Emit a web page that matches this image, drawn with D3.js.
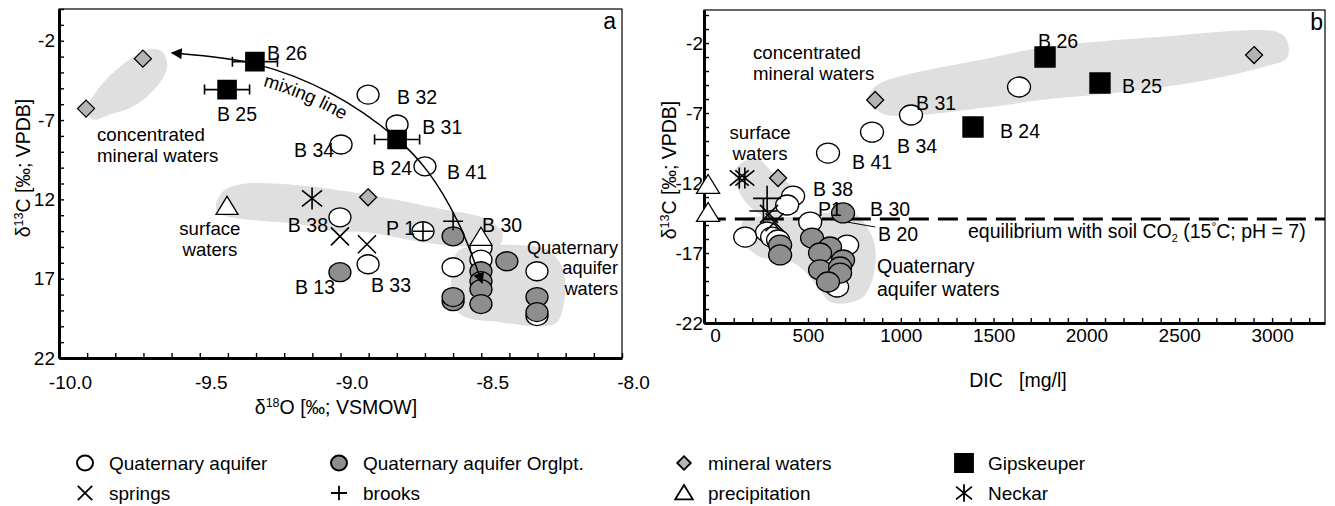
<!DOCTYPE html>
<html>
<head>
<meta charset="utf-8">
<script src="https://cdn.jsdelivr.net/npm/d3@7"></script>
<style>
  body { margin: 0; background: #fff; }
  svg { font-family: "Liberation Sans", Arial, sans-serif; }
</style>
</head>
<body>
<div id="chart"></div>
<script>
// ---------- panel a: d18O (x) vs d13C (y) ----------
var aQuatOpen = [[-8.902,-5.40],[-8.799,-7.28],[-8.998,-8.54],[-8.700,-9.92],[-9.002,-13.13],[-8.902,-16.09],
  [-8.600,-16.28],[-8.501,-15.05],[-8.501,-15.80],[-8.302,-16.53],[-8.302,-19.36],[-8.707,-14.01]];
var aQuatOrg = [[-9.002,-16.59],[-8.600,-14.33],[-8.600,-18.42],[-8.600,-18.16],[-8.501,-16.53],[-8.501,-17.16],
  [-8.501,-17.66],[-8.501,-18.60],[-8.409,-15.90],[-8.302,-18.16],[-8.302,-19.11]];
var aMineral = [[-9.702,-3.13],[-9.904,-6.28],[-8.902,-11.87]];
var aGips = [[-9.304,-3.32],[-9.403,-5.08],[-8.799,-8.23]];
var aGipsErr = [0.08, 0.08, 0.08];
var aSprings = [[-9.002,-14.33],[-8.906,-14.83]];
var aBrooks = [[-8.600,-13.38],[-8.707,-14.01]];
var aPrecip = [[-9.403,-12.44],[-8.501,-14.39]];
var aNeckar = [[-9.101,-11.94]];
var aMixing = [[-9.599,-2.77],[-9.304,-3.46],[-9.037,-5.29],[-8.799,-8.19],[-8.689,-10.27],[-8.583,-13.42],[-8.497,-17.27]];

// grey fields, panel a
var aFieldMineral = [[-9.666,-2.50],[-9.630,-2.75],[-9.616,-3.64],[-9.652,-4.89],[-9.737,-6.15],[-9.819,-6.65],
  [-9.879,-6.97],[-9.900,-6.34],[-9.854,-4.89],[-9.783,-3.64],[-9.712,-2.75]];
var aFieldSurface = [[-9.421,-11.56],[-9.357,-11.06],[-9.144,-11.12],[-8.906,-11.69],[-8.636,-12.63],[-8.480,-13.26],
  [-8.426,-14.08],[-8.433,-14.83],[-8.576,-14.96],[-8.728,-14.64],[-8.906,-14.08],[-9.027,-14.01],[-9.144,-13.57],[-9.439,-12.75]];
var aFieldQuat = [[-8.586,-15.33],[-8.551,-15.02],[-8.291,-15.02],[-8.245,-15.46],[-8.210,-16.40],[-8.203,-18.10],
  [-8.231,-19.74],[-8.291,-19.99],[-8.433,-19.74],[-8.565,-19.36],[-8.600,-18.48],[-8.604,-16.40]];

var aXTicks = d3.range(0, 21).map(i => -10 + i * 0.1);
var aYTicks = d3.range(-22, 1);
var aYLabels = {"-2": "-2", "-7": "-7", "-12": "12", "-17": "17", "-22": "22"};

// [text, x, y, anchor, line step]
var aLabels = [["B 26",-9.261,-3.21,"start"],["B 25",-9.439,-7.06,"start"],
  ["concentrated\nmineral waters",-9.865,-8.32,"start",21],["B 34",-9.165,-9.33,"start"],["B 32",-8.799,-5.98,"start"],
  ["B 31",-8.710,-7.88,"start"],["B 24",-8.888,-10.46,"start"],["B 41",-8.622,-10.71,"start"],
  ["surface\nwaters",-9.464,-14.24,"middle",21],["B 38",-9.187,-14.06,"start"],
  ["B 13",-9.162,-17.96,"start"],["B 33",-8.892,-17.84,"start"],["P 1",-8.838,-14.24,"start"],
  ["B 30",-8.497,-14.06,"start"],["Quaternary\naquifer\nwaters",-8.014,-15.44,"end",20.5]];

// ---------- panel b: DIC (x) vs d13C (y) ----------
var bQuatOpen = [[1637,-5.14],[1055,-7.14],[845,-8.36],[608,-9.86],[420,-12.93],[388,-13.57],[162,-15.86],
  [280,-15.5],[307,-15.86],[339,-16.07],[512,-14.79],[711,-16.43],[657,-19.43]];
var bQuatOrg = [[689,-14.14],[350,-16.43],[350,-17.14],[522,-15.93],[619,-16.57],[565,-17.0],[689,-17.5],
  [565,-18.21],[673,-18.0],[673,-18.43],[608,-19.07]];
var bMineral = [[2903,-2.86],[862,-6.07],[339,-11.64]];
var bGips = [[1777,-3.0],[2073,-4.86],[1389,-8.0]];
var bPrecip = [[-38,-12.14],[-38,-14.14]];
var bNeckar = [[130,-11.64],[160,-11.64]];
var bBrooks = [[280,-13.1],[260,-14.0]];
var bSprings = [[290,-14.2],[320,-14.8]];
var bEquilibrium = -14.57;
var bLeader = [[711,-14.79],[862,-15.14]];

var bFieldMineral = [[835,-5.57],[889,-4.86],[1481,-3.07],[1750,-2.36],[2380,-1.57],[3026,-1.21],[3080,-1.79],
  [3080,-3.07],[2951,-3.71],[2649,-4.64],[2197,-5.50],[1750,-6.07],[1481,-6.57],[926,-7.14],[851,-6.57],[824,-5.93]];
var bFieldSurface = [[108,-11.07],[172,-10.36],[242,-10.36],[296,-11.07],[420,-12.29],[458,-13.21],[388,-14.29],
  [280,-14.43],[188,-13.71],[118,-12.29]];
var bFieldQuat = [[172,-14.50],[420,-14.43],[743,-14.14],[818,-15.14],[862,-16.57],[851,-18.71],[797,-20.14],
  [711,-20.57],[619,-20.50],[565,-19.64],[474,-18.21],[388,-17.50],[242,-17.29],[135,-15.86],[145,-14.86]];

var bXTicks = d3.range(0, 33).map(i => i * 100);
var bYTicks = d3.range(-22, 1);

var bLabels = [["B 26",1739,-2.35,"start"],["B 25",2192,-5.57,"start"],["B 24",1534,-8.78,"start"],
  ["B 31",1082,-6.78,"start"],["B 34",980,-9.86,"start"],["B 41",737,-11.0,"start"],["B 38",527,-12.93,"start"],
  ["P1",554,-14.36,"start"],["B 30",834,-14.36,"start"],["B 20",877,-16.14,"start"],
  ["concentrated\nmineral waters",204,-3.14,"start",21],["surface\nwaters",242,-8.86,"middle",21],
  ["Quaternary\naquifer waters",872,-18.43,"start",23]];

// ---------- legend ----------
var legendNames = ["Quaternary aquifer", "Quaternary aquifer Orglpt.", "mineral waters", "Gipskeuper",
  "springs", "brooks", "precipitation", "Neckar"];
var legendKinds = ["open", "org", "diamond", "square", "cross", "plus", "triangle", "asterisk"];

var GREY_FIELD = "#dfdfdf", GREY_ORG = "#8e8e8e", GREY_MIN = "#b4b4b4";
var LABEL_SIZE = 19.5, TICK_SIZE = "19px";

var svg = d3.select("#chart").append("svg")
  .attr("width", 1335)
  .attr("height", 506);

var defs = svg.append("defs");
defs.append("marker")
  .attr("id", "arrow")
  .attr("viewBox", "0 0 10 10")
  .attr("refX", 9).attr("refY", 5)
  .attr("markerWidth", 15).attr("markerHeight", 11)
  .attr("markerUnits", "userSpaceOnUse")
  .attr("orient", "auto-start-reverse")
  .append("path").attr("d", "M0,0L10,5L0,10Z").attr("fill", "#000");

// shapes centred on 0,0
function shape(kind, k) {
  k = k || 1;
  switch (kind) {
    case "diamond": return `M0,${-8.5*k}L${8.5*k},0L0,${8.5*k}L${-8.5*k},0Z`;
    case "square": return `M${-9*k},${-9*k}h${18*k}v${18*k}h${-18*k}Z`;
    case "triangle": return `M0,${-10*k}L${11*k},${8*k}L${-11*k},${8*k}Z`;
    case "cross": return `M${-9*k},${-9*k}L${9*k},${9*k}M${-9*k},${9*k}L${9*k},${-9*k}`;
    case "plus": return `M${-10*k},0H${10*k}M0,${-9*k}V${9*k}`;
    case "asterisk": return `M0,${-11*k}V${11*k}M${-10*k},${-8*k}L${10*k},${8*k}M${-10*k},${8*k}L${10*k},${-8*k}`;
  }
}

function drawEllipses(g, data, x, y, fill, rx, ry) {
  g.append("g").selectAll("ellipse")
    .data(data)
    .enter()
    .append("ellipse")
    .attr("cx", d => x(d[0]))
    .attr("cy", d => y(d[1]))
    .attr("rx", rx)
    .attr("ry", ry)
    .attr("fill", fill)
    .attr("stroke", "#000")
    .attr("stroke-width", 1.3);
}

function drawShapes(g, data, x, y, kind, k) {
  var filled = {diamond: GREY_MIN, square: "#000", triangle: "#fff"};
  g.append("g").selectAll("path")
    .data(data)
    .enter()
    .append("path")
    .attr("transform", d => `translate(${x(d[0])},${y(d[1])})`)
    .attr("d", shape(kind, k))
    .attr("fill", filled[kind] || "none")
    .attr("stroke", "#000")
    .attr("stroke-width", kind == "diamond" || kind == "triangle" ? 1.3 : 1.6);
}

function drawField(g, data, x, y) {
  g.append("path")
    .datum(data)
    .attr("d", d3.line().x(d => x(d[0])).y(d => y(d[1])).curve(d3.curveCatmullRomClosed.alpha(0.5)))
    .attr("fill", GREY_FIELD);
}

// labels; multi-line ones become one text with tspans, sized to fit their line step
function drawLabels(g, data, x, y) {
  var t = g.append("g").selectAll("text")
    .data(data)
    .enter()
    .append("text")
    .attr("x", d => x(d[1]))
    .attr("y", d => y(d[2]))
    .attr("text-anchor", d => d[3])
    .attr("font-size", d => (d[4] ? Math.min(LABEL_SIZE, d[4] / 1.125) : LABEL_SIZE) + "px");
  t.each(function(d) {
    var el = d3.select(this);
    d[0].split("\n").forEach((line, i) => {
      el.append("tspan")
        .attr("x", x(d[1]))
        .attr("dy", i == 0 ? 0 : d[4])
        .text(line);
    });
  });
}

function styleAxis(g) {
  g.attr("font-family", null).attr("font-size", null);
  g.select(".domain").attr("stroke-width", 3);
  g.selectAll(".tick line").attr("stroke-width", 1.4);
  g.selectAll(".tick text").attr("font-size", TICK_SIZE).attr("fill", "#000");
}

// y-axis title with superscript
function yTitle(g, tx, ty) {
  var t = g.append("text")
    .attr("transform", `translate(${tx},${ty}) rotate(-90)`)
    .attr("text-anchor", "middle")
    .attr("font-size", "19.5px");
  t.append("tspan").text("δ");
  t.append("tspan").attr("font-size", "12.5px").attr("dy", -7).text("13");
  t.append("tspan").attr("dy", 7).text("C  [‰; VPDB]");
}

// ================= panel a =================
var xA = d3.scaleLinear().domain([-10, -8]).range([59, 622]);
var yA = d3.scaleLinear().domain([-22, 0]).range([358, 9]);
var gA = svg.append("g");

drawField(gA, aFieldMineral, xA, yA);
drawField(gA, aFieldSurface, xA, yA);
drawField(gA, aFieldQuat, xA, yA);

gA.append("rect")
  .attr("x", xA(-10)).attr("y", yA(0))
  .attr("width", xA(-8) - xA(-10)).attr("height", yA(-22) - yA(0))
  .attr("fill", "none").attr("stroke", "#000").attr("stroke-width", 1.2);

gA.append("g")
  .attr("transform", `translate(0,${yA(-22)})`)
  .call(d3.axisBottom(xA).tickValues(aXTicks).tickSize(-5).tickSizeOuter(0).tickPadding(18)
    .tickFormat((d, i) => i % 5 == 0 ? d.toFixed(1) : ""))
  .call(styleAxis)
  .selectAll(".tick text").attr("dx", 11);

gA.append("g")
  .attr("transform", `translate(${xA(-10)},0)`)
  .call(d3.axisLeft(yA).tickValues(aYTicks).tickSize(-5).tickSizeOuter(0).tickPadding(4)
    .tickFormat(d => aYLabels[d] || ""))
  .call(styleAxis);

drawEllipses(gA, aQuatOpen, xA, yA, "#fff", 11, 9.5);
drawEllipses(gA, aQuatOrg, xA, yA, GREY_ORG, 11, 9.5);
drawShapes(gA, aMineral, xA, yA, "diamond", 1);
drawShapes(gA, aSprings, xA, yA, "cross", 1);
drawShapes(gA, aBrooks, xA, yA, "plus", 1);
drawShapes(gA, aNeckar, xA, yA, "asterisk", 1);
drawShapes(gA, aPrecip, xA, yA, "triangle", 1);

// mixing line
var mixLine = d3.line().x(d => xA(d[0])).y(d => yA(d[1])).curve(d3.curveCatmullRom.alpha(0.5));
gA.append("path")
  .attr("id", "mixpath")
  .attr("d", mixLine(aMixing))
  .attr("fill", "none")
  .attr("stroke", "#000")
  .attr("stroke-width", 1.5)
  .attr("marker-start", "url(#arrow)")
  .attr("marker-end", "url(#arrow)");

gA.append("g")
  .attr("transform", "translate(0,20)")
  .append("text")
  .attr("font-size", "18.5px")
  .append("textPath")
  .attr("href", "#mixpath")
  .attr("startOffset", 92)
  .text("mixing line");

// Gipskeuper with error bars
var errG = gA.append("g").selectAll("g").data(aGips).enter().append("g");
errG.append("path")
  .attr("d", (d, i) => {
    var x0 = xA(d[0] - aGipsErr[i]), x1 = xA(d[0] + aGipsErr[i]), y = yA(d[1]);
    return `M${x0},${y}H${x1}M${x0},${y - 5}V${y + 5}M${x1},${y - 5}V${y + 5}`;
  })
  .attr("stroke", "#000").attr("stroke-width", 1.6).attr("fill", "none");
drawShapes(gA, aGips, xA, yA, "square", 1);

drawLabels(gA, aLabels, xA, yA);

gA.append("text").attr("x", 616).attr("y", 29).attr("text-anchor", "end").attr("font-size", "23px").text("a");
yTitle(gA, 30, 168);

var xtA = gA.append("text").attr("x", 336).attr("y", 414).attr("text-anchor", "middle").attr("font-size", "19.5px");
xtA.append("tspan").text("δ");
xtA.append("tspan").attr("font-size", "12.5px").attr("dy", -7).text("18");
xtA.append("tspan").attr("dy", 7).text("O  [‰; VSMOW]");

// ================= panel b =================
var xB = d3.scaleLinear().domain([-60, 3285]).range([704, 1325]);
var yB = d3.scaleLinear().domain([-22, 0.36]).range([323, 10]);
var gB = svg.append("g");

drawField(gB, bFieldMineral, xB, yB);
drawField(gB, bFieldSurface, xB, yB);
drawField(gB, bFieldQuat, xB, yB);

gB.append("rect")
  .attr("x", xB(-60)).attr("y", yB(0.36))
  .attr("width", xB(3285) - xB(-60)).attr("height", yB(-22) - yB(0.36))
  .attr("fill", "none").attr("stroke", "#000").attr("stroke-width", 1.2);

gB.append("g")
  .attr("transform", `translate(0,${yB(-22)})`)
  .call(d3.axisBottom(xB).tickValues(bXTicks).tickSize(-5).tickSizeOuter(0).tickPadding(6)
    .tickFormat(d => d % 500 == 0 ? String(d) : ""))
  .call(styleAxis);

gB.append("g")
  .attr("transform", `translate(${xB(-60)},0)`)
  .call(d3.axisLeft(yB).tickValues(bYTicks).tickSize(-5).tickSizeOuter(0).tickPadding(1)
    .tickFormat(d => (d + 2) % 5 == 0 ? String(d) : ""))
  .call(styleAxis);

// equilibrium with soil CO2
gB.append("line")
  .attr("x1", xB(-50)).attr("x2", xB(3285))
  .attr("y1", yB(bEquilibrium)).attr("y2", yB(bEquilibrium))
  .attr("stroke", "#000").attr("stroke-width", 3).attr("stroke-dasharray", "20,9");

drawEllipses(gB, bQuatOpen, xB, yB, "#fff", 11.5, 10);
drawEllipses(gB, bQuatOrg, xB, yB, GREY_ORG, 11.5, 10);
drawShapes(gB, bMineral, xB, yB, "diamond", 1);
drawShapes(gB, bPrecip, xB, yB, "triangle", 1.05);
drawShapes(gB, bNeckar, xB, yB, "asterisk", 0.95);
drawShapes(gB, bBrooks, xB, yB, "plus", 1.4);
drawShapes(gB, bSprings, xB, yB, "cross", 1);
drawShapes(gB, bGips, xB, yB, "square", 1.1);

gB.append("path")
  .attr("d", d3.line().x(d => xB(d[0])).y(d => yB(d[1]))(bLeader))
  .attr("stroke", "#000").attr("stroke-width", 1);

drawLabels(gB, bLabels, xB, yB);

var eq = gB.append("text").attr("x", xB(1362)).attr("y", yB(-15.93)).attr("font-size", "19.5px");
eq.append("tspan").text("equilibrium with soil  CO");
eq.append("tspan").attr("font-size", "11px").attr("dy", 4).text("2");
eq.append("tspan").attr("dy", -4).text(" (15");
eq.append("tspan").attr("font-size", "12px").attr("dy", -7).text("°");
eq.append("tspan").attr("dy", 7).text("C; pH = 7)");

gB.append("text").attr("x", 1323).attr("y", 30).attr("text-anchor", "end").attr("font-size", "23px").text("b");
yTitle(gB, 676, 170);

gB.append("text").attr("x", 1018).attr("y", 387).attr("text-anchor", "middle")
  .attr("font-size", "19.5px").attr("xml:space", "preserve").text("DIC   [mg/l]");

// ================= legend =================
var legX = [85, 339, 684, 964];
var legY = [463, 493];
var leg = svg.append("g").selectAll("g")
  .data(legendNames)
  .enter()
  .append("g")
  .attr("transform", (d, i) => `translate(${legX[i % 4]},${legY[Math.floor(i / 4)]})`);

leg.each(function(d, i) {
  var g = d3.select(this);
  var kind = legendKinds[i];
  if (kind == "open" || kind == "org") {
    g.append("ellipse").attr("rx", 8).attr("ry", 7.5)
      .attr("fill", kind == "open" ? "#fff" : GREY_ORG)
      .attr("stroke", "#000").attr("stroke-width", 2);
  } else {
    var k = kind == "square" ? 1 : 0.8;
    g.append("path").attr("d", shape(kind, k))
      .attr("fill", {diamond: GREY_MIN, square: "#000", triangle: "#fff"}[kind] || "none")
      .attr("stroke", "#000").attr("stroke-width", 1.8);
  }
  g.append("text").attr("x", 24).attr("y", 7).attr("font-size", "19px").text(d);
});
</script>
</body>
</html>
